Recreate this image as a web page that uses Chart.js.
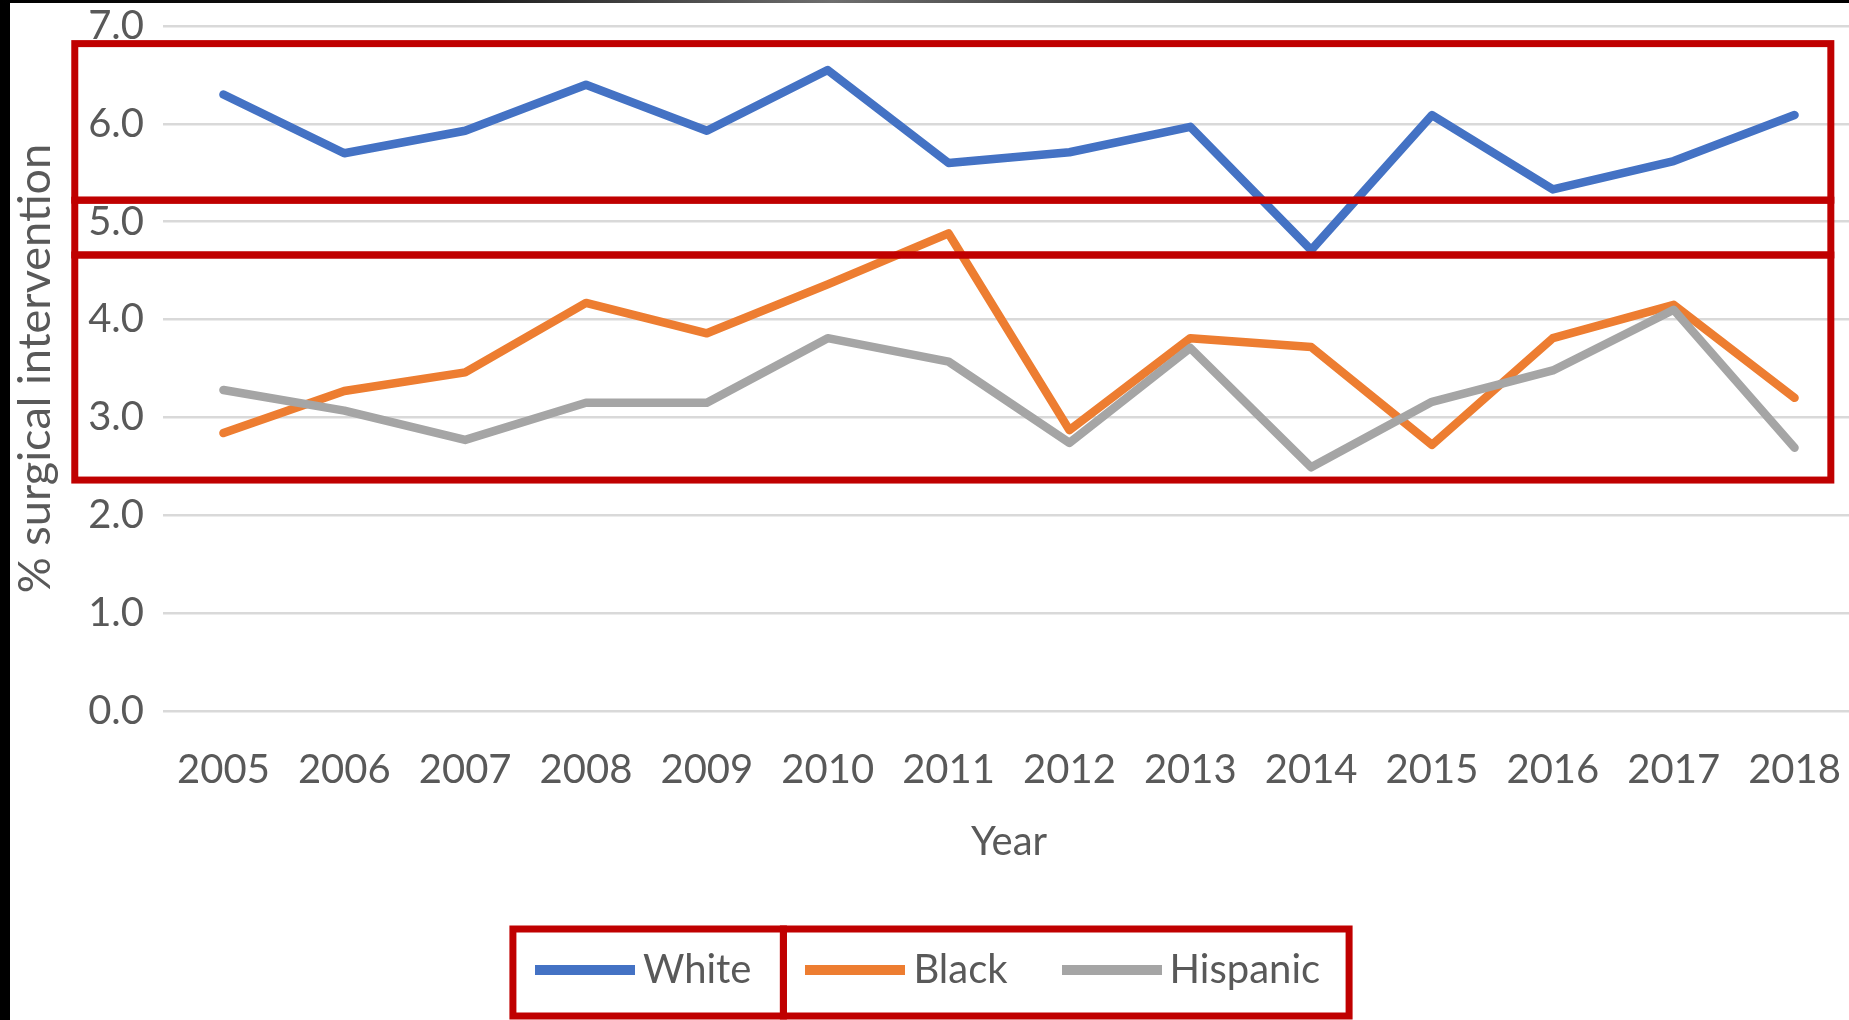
<!DOCTYPE html>
<html>
<head>
<meta charset="utf-8">
<title>% surgical intervention by year</title>
<script src="https://cdn.jsdelivr.net/npm/chart.js@4.4.1/dist/chart.umd.min.js"></script>
<style>
    html, body { margin: 0; padding: 0; background: #fff; overflow: hidden; }
    #wrap { position: relative; width: 1870px; height: 1020px; }
    #chart { display: block; }
    .edge { position: absolute; background: #000; }
    #edgeLeft { left: 0; top: 0; width: 10px; height: 1020px; }
    #edgeTop {
        left: 0; top: 0; width: 1849px; height: 3px;
        background: linear-gradient(to right, #000 0%, #1a1a1a 25%, #6e6e6e 45%, #1a1a1a 70%, #000 100%);
    }
</style>
</head>
<body>
<div id="wrap">
    <canvas id="chart" width="1870" height="1020"></canvas>
    <div class="edge" id="edgeLeft"></div>
    <div class="edge" id="edgeTop"></div>
</div>
<script>
const years = ["2005", "2006", "2007", "2008", "2009", "2010", "2011",
               "2012", "2013", "2014", "2015", "2016", "2017", "2018"];
const white = [6.30, 5.70, 5.93, 6.40, 5.93, 6.55, 5.60, 5.71, 5.97, 4.71, 6.09, 5.33, 5.62, 6.09];
const black = [2.84, 3.27, 3.46, 4.17, 3.86, 4.36, 4.88, 2.87, 3.81, 3.72, 2.72, 3.81, 4.15, 3.20];
const hispanic = [3.28, 3.07, 2.77, 3.15, 3.15, 3.81, 3.57, 2.74, 3.71, 2.49, 3.16, 3.48, 4.10, 2.69];
const seriesNames = ["White", "Black", "Hispanic"];
const seriesColors = ["#4472C4", "#ED7D31", "#A5A5A5"];
const yTicks = [0, 1, 2, 3, 4, 5, 6, 7];

const FONT = "Lato, 'Open Sans', sans-serif";
const TEXT = "#595959";
const RED = "#C00000";

// short thick bar used as the legend key, a bit wider than the box so the gap to the text is small
function legendLine(color) {
    const c = document.createElement("canvas");
    c.width = 100;
    c.height = 10;
    const g = c.getContext("2d");
    g.fillStyle = color;
    g.fillRect(0, 0, 100, 10);
    return c;
}

// red highlight boxes drawn over the plot and around the legend
const highlightBoxes = {
    id: "highlightBoxes",
    afterDraw(chart) {
        const { ctx } = chart;
        const x = chart.scales.x;
        const y = chart.scales.y;
        const left = x.getPixelForValue(-1.23);
        const right = x.getPixelForValue(13.3);
        const edges = [6.82, 5.22, 4.66, 2.36].map((v) => y.getPixelForValue(v));
        ctx.save();
        ctx.strokeStyle = RED;
        ctx.lineWidth = 7;
        for (let i = 0; i < edges.length - 1; i++) {
            ctx.strokeRect(left, edges[i], right - left, edges[i + 1] - edges[i]);
        }
        const hits = chart.legend.legendHitBoxes;
        const mid = hits[0].top + hits[0].height / 2;
        const top = mid - 41;
        const bottom = mid + 46;
        const a = hits[0].left - 34;
        const b = hits[1].left - 34;
        const c = hits[2].left + hits[2].width + 29;
        ctx.strokeRect(a, top, b - a, bottom - top);
        ctx.strokeRect(b, top, c - b, bottom - top);
        ctx.restore();
    },
};

const seriesValues = [white, black, hispanic];
const datasets = seriesNames.map((name, i) => ({
    label: name,
    data: seriesValues[i],
    borderColor: seriesColors[i],
    backgroundColor: seriesColors[i],
    borderWidth: 8.5,
    borderJoinStyle: "round",
    borderCapStyle: "round",
    pointRadius: 0,
    pointHoverRadius: 0,
    pointStyle: legendLine(seriesColors[i]),
    tension: 0,
    // later series sit on top, as in the original
    order: seriesNames.length - 1 - i,
}));

const legendPadding = 66;

new Chart(document.getElementById("chart").getContext("2d"), {
    type: "line",
    data: { labels: years, datasets },
    options: {
        responsive: false,
        animation: false,
        devicePixelRatio: 1,
        layout: { padding: { left: 12, right: 15, top: 26, bottom: 20 } },
        plugins: {
            tooltip: { enabled: false },
            legend: {
                position: "bottom",
                labels: {
                    usePointStyle: true,
                    pointStyleWidth: 76,
                    padding: legendPadding,
                    color: TEXT,
                    font: { family: FONT, size: 40 },
                    sort: (a, b) => a.datasetIndex - b.datasetIndex,
                },
            },
        },
        scales: {
            x: {
                offset: true,
                grid: { display: false, drawTicks: false },
                border: { display: false },
                ticks: {
                    padding: 35,
                    color: TEXT,
                    font: { family: FONT, size: 40 },
                    maxRotation: 0,
                    autoSkip: false,
                },
                title: {
                    display: true,
                    text: "Year",
                    color: TEXT,
                    font: { family: FONT, size: 40 },
                    padding: { top: 0, bottom: 18 },
                },
                afterFit(scale) {
                    // chart area bottom lands on the 0.0 line of the original
                    scale.height = 239 - legendPadding;
                    scale.paddingLeft = 0;
                    scale.paddingRight = 0;
                },
            },
            y: {
                min: yTicks[0],
                max: yTicks[yTicks.length - 1],
                afterBuildTicks(scale) {
                    scale.ticks = yTicks.map((v) => ({ value: v }));
                },
                grid: { color: "#D9D9D9", lineWidth: 2.5, drawTicks: false },
                border: { display: false },
                ticks: {
                    padding: 19,
                    color: TEXT,
                    font: { family: FONT, size: 40 },
                    callback: (value) => value.toFixed(1),
                },
                title: {
                    display: true,
                    text: "% surgical intervention",
                    color: TEXT,
                    font: { family: FONT, size: 45 },
                    padding: { top: -4, bottom: 0 },
                },
                afterFit(scale) {
                    scale.width = 151;
                    scale.paddingTop = 24;
                },
            },
        },
    },
    plugins: [highlightBoxes],
});
</script>
</body>
</html>
